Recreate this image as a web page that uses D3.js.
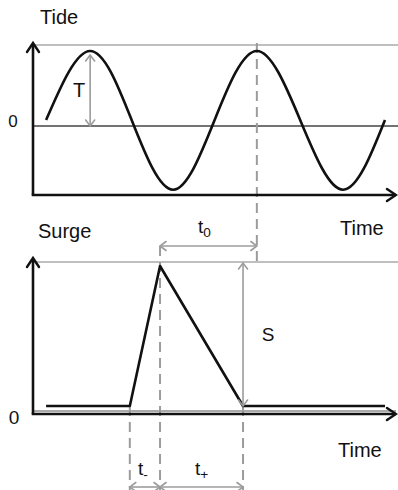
<!DOCTYPE html>
<html>
<head>
<meta charset="utf-8">
<script src="https://cdn.jsdelivr.net/npm/d3@7"></script>
<style>
  body { margin: 0; background: #fff; }
  svg { display: block; }
  text { font-family: "Liberation Sans", Arial, sans-serif; fill: #111; }
</style>
</head>
<body>
<svg id="viz" width="398" height="490"></svg>
<script>
// tide curve at peaks, troughs and mid-levels
const tideTime  = [0.36, 1.57, 2.71, 3.85, 4.99, 6.15, 7.34, 8.52, 9.67];
const tideLevel = [0.08, 1.0, 0.08, -0.85, 0.08, 1.0, 0.08, -0.85, 0.08];

// surge: flat, quick rise, slower fall, flat again
const surgeTime  = [0.36, 2.66, 3.49, 5.77, 9.67];
const surgeLevel = [0, 0, 1, 0, 0];

const panelLabels = ["Tide", "Surge"];
const axisLabel = "Time";
const zeroLabel = "0";

const svg = d3.select("#viz");
const grey = "#9c9c9c";
const dash = "10,6";

const x = d3.scaleLinear().domain([0, 10]).range([33, 397]);
const yTide = d3.scaleLinear().domain([-1, 1]).range([201, 51]);
const ySurge = d3.scaleLinear().domain([0, 1]).range([406, 266]);

// open arrow head, dir in degrees (0 = right, -90 = up)
function chevron(x0, y0, dir, len, half, color, w) {
    svg.append("path")
        .attr("d", `M${-len},${-half}L0,0L${-len},${half}`)
        .attr("transform", `translate(${x0},${y0}) rotate(${dir})`)
        .attr("fill", "none")
        .attr("stroke", color)
        .attr("stroke-width", w)
        .attr("stroke-linecap", "round");
}

function line(x1, y1, x2, y2, color, w, dash) {
    const l = svg.append("line")
        .attr("x1", x1).attr("y1", y1).attr("x2", x2).attr("y2", y2)
        .attr("stroke", color).attr("stroke-width", w);
    if (dash) l.attr("stroke-dasharray", dash);
    return l;
}

function dblArrow(x1, y1, x2, y2) {
    line(x1, y1, x2, y2, grey, 1.6);
    const a = Math.atan2(y2 - y1, x2 - x1) * 180 / Math.PI;
    chevron(x2, y2, a, 6, 4.5, grey, 1.6);
    chevron(x1, y1, a + 180, 6, 4.5, grey, 1.6);
}

function subLabel(cx, by, main, sub, size) {
    const t = svg.append("text").attr("x", cx).attr("y", by)
        .attr("text-anchor", "middle").style("font-size", size + "px");
    t.append("tspan").text(main);
    t.append("tspan").attr("dy", 4).style("font-size", (size * 0.72) + "px").text(sub);
}

// ---------- top panel: tide ----------
const tideTop = 45, tideAxisY = 195, tideTip = 43;
line(x(0), tideTop, 398, tideTop, "#aaa", 1.5);
line(x(0), yTide(0), 398, yTide(0), "#444", 1.4);

// dashed line from tide peak down to the surge panel
const tPeak = tideTime[5];
line(x(tPeak), tideTip, x(tPeak), 262, grey, 2, dash);

svg.append("path")
    .datum(d3.zip(tideTime, tideLevel))
    .attr("d", d3.line().x(d => x(d[0])).y(d => yTide(d[1])).curve(d3.curveNatural))
    .attr("fill", "none")
    .attr("stroke", "#111")
    .attr("stroke-width", 2.6);

// axes
line(x(0), tideTip + 1, x(0), tideAxisY, "#111", 2.6);
line(x(0) - 1.3, tideAxisY, 396, tideAxisY, "#111", 2.6);
chevron(x(0), tideTip, -90, 9, 6, "#111", 2.4);
chevron(396, tideAxisY, 0, 9, 6, "#111", 2.4);

// T arrow at first peak
const tx = x(tideTime[1]);
dblArrow(tx, yTide(1) + 4, tx, yTide(0));
svg.append("text").attr("x", tx - 11).attr("y", 97)
    .attr("text-anchor", "middle").style("font-size", "20px").text("T");

svg.append("text").attr("x", 40).attr("y", 24).style("font-size", "20px").text(panelLabels[0]);
svg.append("text").attr("x", 13).attr("y", 127).attr("text-anchor", "middle")
    .style("font-size", "17px").text(zeroLabel);
svg.append("text").attr("x", 340).attr("y", 235).style("font-size", "20px").text(axisLabel);

// ---------- bottom panel: surge ----------
const surgeTop = 262, surgeAxisY = 414, surgeTip = 258;
line(x(0), surgeTop, 398, surgeTop, "#aaa", 1.5);
line(x(0), 411, 396, 411, "#aaa", 2);

const sRise = surgeTime[1], sPeak = surgeTime[2], sEnd = surgeTime[3];

// dashed guides
line(x(sPeak), 246, x(sPeak), 490, grey, 2, dash);
line(x(sRise), ySurge(0), x(sRise), 490, grey, 2, dash);
line(x(sEnd), ySurge(0), x(sEnd), 490, grey, 2, dash);

svg.append("path")
    .datum(d3.zip(surgeTime, surgeLevel))
    .attr("d", d3.line().x(d => x(d[0])).y(d => ySurge(d[1])))
    .attr("fill", "none")
    .attr("stroke", "#111")
    .attr("stroke-width", 2.6)
    .attr("stroke-linejoin", "round");

line(x(0), surgeTip + 1, x(0), surgeAxisY, "#111", 2.6);
line(x(0) - 1.3, surgeAxisY, 396, surgeAxisY, "#111", 2.6);
chevron(x(0), surgeTip, -90, 9, 6, "#111", 2.4);
chevron(396, surgeAxisY, 0, 9, 6, "#111", 2.4);

// S arrow
const sx = x(sEnd);
dblArrow(sx, surgeTop + 1, sx, ySurge(0));
svg.append("text").attr("x", sx + 25).attr("y", 341)
    .attr("text-anchor", "middle").style("font-size", "19px").text("S");

// t0 between surge peak and tide peak
dblArrow(x(sPeak), 246, x(tPeak), 246);
subLabel((x(sPeak) + x(tPeak)) / 2 - 4, 233, "t", "0", 19);

// t- and t+
dblArrow(x(sRise), 487, x(sPeak), 487);
dblArrow(x(sPeak), 487, x(sEnd), 487);
subLabel((x(sRise) + x(sPeak)) / 2 - 2, 475, "t", "-", 19);
subLabel((x(sPeak) + x(sEnd)) / 2, 475, "t", "+", 19);

svg.append("text").attr("x", 38).attr("y", 238).style("font-size", "20px").text(panelLabels[1]);
svg.append("text").attr("x", 14).attr("y", 424).attr("text-anchor", "middle")
    .style("font-size", "19px").text(zeroLabel);
svg.append("text").attr("x", 338).attr("y", 457).style("font-size", "20px").text(axisLabel);
</script>
</body>
</html>
